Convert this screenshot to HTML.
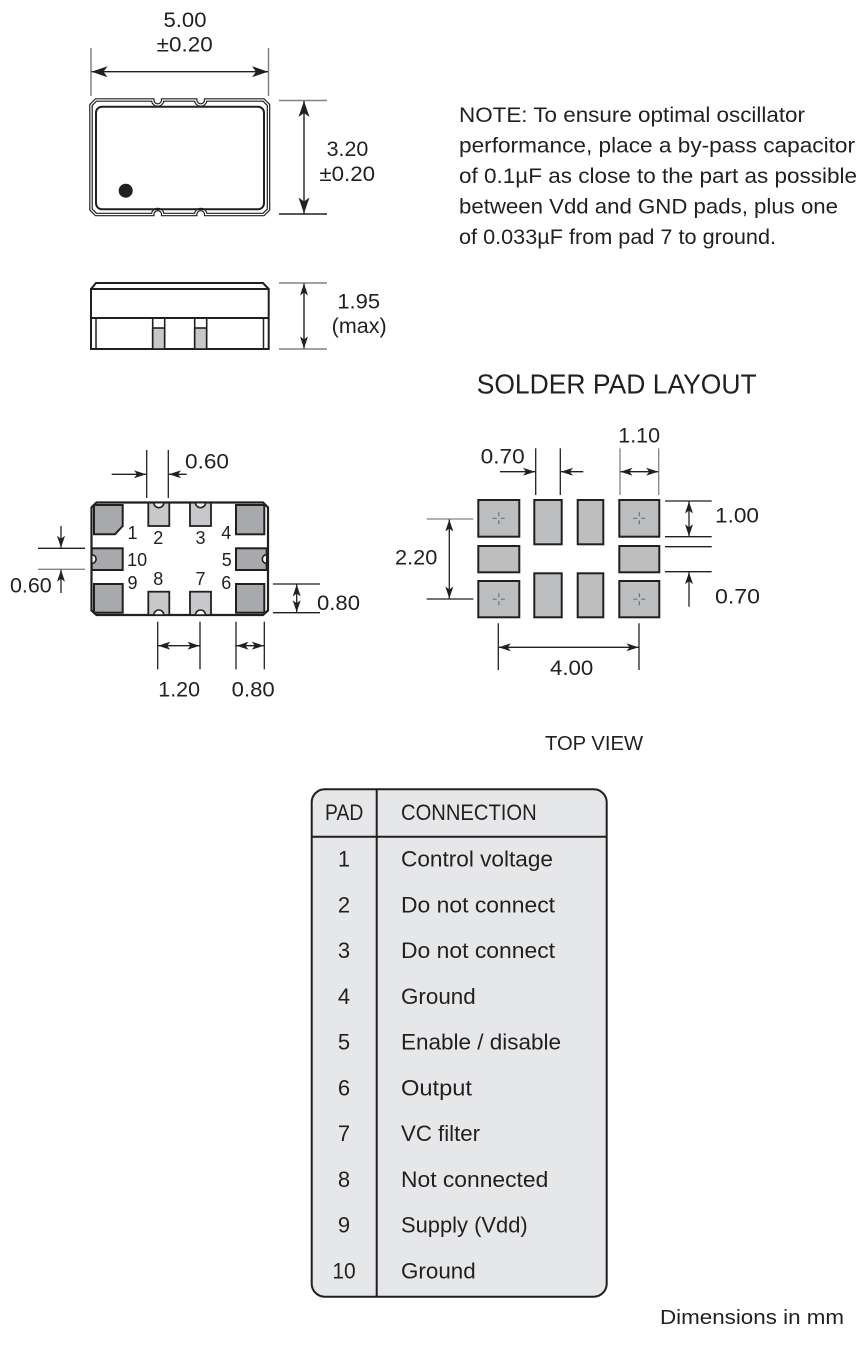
<!DOCTYPE html>
<html><head><meta charset="utf-8"><style>
html,body{margin:0;padding:0;background:#fff;}
svg{display:block;}
text{font-family:"Liberation Sans",sans-serif;fill:#231f20;}
</style></head><body>
<svg width="867" height="1358" viewBox="0 0 867 1358" xmlns="http://www.w3.org/2000/svg">
<defs>
<marker id="aL" markerUnits="userSpaceOnUse" markerWidth="16" markerHeight="11" refX="16" refY="5.5" orient="auto-start-reverse"><path d="M0,0 L16,5.5 L0,11 L4,5.5 Z" fill="#231f20"/></marker>
<marker id="aS" markerUnits="userSpaceOnUse" markerWidth="12" markerHeight="8" refX="12" refY="4" orient="auto-start-reverse"><path d="M0,0 L12,4 L0,8 L3,4 Z" fill="#231f20"/></marker>
</defs>

<!-- ===== TOP VIEW PACKAGE ===== -->
<g fill="none" stroke="#231f20">
<path id="outl" d="M96,100 H152.7 A5,5 0 0 0 162.7,100 H195.7 A5,5 0 0 0 205.7,100 H263.5 L268.5,105 V209.5 L263.5,214.5 H205.7 A5,5 0 0 0 195.7,214.5 H162.7 A5,5 0 0 0 152.7,214.5 H96 L91,209.5 V105 Z" stroke-width="3.6"/>
<path d="M96,100 H152.7 A5,5 0 0 0 162.7,100 H195.7 A5,5 0 0 0 205.7,100 H263.5 L268.5,105 V209.5 L263.5,214.5 H205.7 A5,5 0 0 0 195.7,214.5 H162.7 A5,5 0 0 0 152.7,214.5 H96 L91,209.5 V105 Z" stroke="#fff" stroke-width="1.2"/>
<rect x="96" y="106.7" width="168" height="102.6" rx="6" stroke-width="2"/>
</g>
<circle cx="125.7" cy="190.7" r="7" fill="#231f20"/>

<!-- 5.00 dim -->
<g stroke="#808285" stroke-width="1.5">
<line x1="91" y1="48" x2="91" y2="96"/>
<line x1="268.5" y1="48" x2="268.5" y2="96"/>
<line x1="279" y1="100.5" x2="327" y2="100.5"/>
<line x1="279" y1="214" x2="327" y2="214" stroke="#231f20"/>
<line x1="279" y1="283" x2="327" y2="283"/>
<line x1="279" y1="349" x2="327" y2="349"/>
</g>
<g stroke="#231f20" stroke-width="1.4" fill="none">
<line x1="91.5" y1="71.7" x2="268" y2="71.7" marker-start="url(#aL)" marker-end="url(#aL)"/>
<line x1="304" y1="101" x2="304" y2="213.5" marker-start="url(#aL)" marker-end="url(#aL)"/>
<line x1="304" y1="283.5" x2="304" y2="348.5" marker-start="url(#aS)" marker-end="url(#aS)"/>
</g>
<text x="185" y="27" font-size="21" text-anchor="middle" textLength="43" lengthAdjust="spacingAndGlyphs">5.00</text>
<text x="184.7" y="51.7" font-size="21" text-anchor="middle" textLength="56" lengthAdjust="spacingAndGlyphs">±0.20</text>
<text x="347.5" y="156" font-size="21" text-anchor="middle" textLength="41.7" lengthAdjust="spacingAndGlyphs">3.20</text>
<text x="347.2" y="181" font-size="21" text-anchor="middle" textLength="55.7" lengthAdjust="spacingAndGlyphs">±0.20</text>
<text x="358.7" y="308.3" font-size="21" text-anchor="middle" textLength="42.7" lengthAdjust="spacingAndGlyphs">1.95</text>
<text x="359.2" y="333" font-size="21" text-anchor="middle" textLength="55" lengthAdjust="spacingAndGlyphs">(max)</text>

<!-- ===== SIDE VIEW ===== -->
<g fill="none" stroke="#231f20" stroke-width="2">
<path d="M91,289 L96,283 H263 L268.7,289"/>
<rect x="91" y="289" width="177.7" height="60"/>
<line x1="91" y1="318" x2="268.7" y2="318"/>
<line x1="96" y1="318" x2="96" y2="349" stroke-width="1.5"/>
<line x1="263.5" y1="318" x2="263.5" y2="349" stroke-width="1.5"/>
</g>
<g stroke="#231f20" stroke-width="1.6">
<rect x="152.7" y="328" width="12" height="21" fill="#c7c8ca"/>
<rect x="194.7" y="328" width="12" height="21" fill="#c7c8ca"/>
<line x1="152.7" y1="318" x2="152.7" y2="349"/>
<line x1="164.7" y1="318" x2="164.7" y2="349"/>
<line x1="194.7" y1="318" x2="194.7" y2="349"/>
<line x1="206.7" y1="318" x2="206.7" y2="349"/>
</g>

<!-- ===== NOTE ===== -->
<g font-size="21">
<text x="459" y="122" textLength="346" lengthAdjust="spacingAndGlyphs">NOTE: To ensure optimal oscillator</text>
<text x="459" y="152.5" textLength="396" lengthAdjust="spacingAndGlyphs">performance, place a by-pass capacitor</text>
<text x="459" y="183" textLength="398" lengthAdjust="spacingAndGlyphs">of 0.1µF as close to the part as possible</text>
<text x="459" y="213.5" textLength="379" lengthAdjust="spacingAndGlyphs">between Vdd and GND pads, plus one</text>
<text x="459" y="244" textLength="317" lengthAdjust="spacingAndGlyphs">of 0.033µF from pad 7 to ground.</text>
</g>

<text x="476.7" y="393.3" font-size="28" textLength="280" lengthAdjust="spacingAndGlyphs">SOLDER PAD LAYOUT</text>

<!-- ===== BOTTOM VIEW PACKAGE ===== -->
<path d="M96.5,502.5 H263 L268,507.5 V610.5 L263,615 H96.5 L91.5,610.5 V507.5 Z" fill="none" stroke="#231f20" stroke-width="2.2"/>
<g stroke="#231f20" stroke-width="2" fill="#a7a9ac">
<path d="M94,505 H122.7 V526 L115,534.3 H94 Z"/>
<rect x="236" y="505" width="28.3" height="29.3"/>
<rect x="91.7" y="548.3" width="31" height="21.7"/>
<rect x="236" y="548.3" width="30.7" height="21.7"/>
<rect x="94" y="584" width="28.7" height="28.7"/>
<rect x="236" y="584" width="28.3" height="28.7"/>
</g>
<g stroke="#231f20" stroke-width="1.8" fill="#c7c8ca">
<rect x="148.3" y="502.7" width="21" height="23.3"/>
<rect x="190" y="502.7" width="21" height="23.3"/>
<rect x="148.3" y="591.7" width="21" height="23.3"/>
<rect x="190" y="591.7" width="21" height="23.3"/>
</g>
<g stroke="#231f20" stroke-width="1.6" fill="#fff">
<path d="M153.8,502.7 A5,5 0 0 0 163.8,502.7 Z"/>
<path d="M195.5,502.7 A5,5 0 0 0 205.5,502.7 Z"/>
<path d="M163.8,615 A5,5 0 0 0 153.8,615 Z"/>
<path d="M205.5,615 A5,5 0 0 0 195.5,615 Z"/>
<path d="M91.7,554.7 A4.4,4.4 0 0 1 91.7,563.5 Z"/>
<path d="M266.7,563.5 A4.4,4.4 0 0 1 266.7,554.7 Z"/>
</g>
<g font-size="18" text-anchor="middle">
<text x="132.5" y="539">1</text>
<text x="158.3" y="544">2</text>
<text x="200.5" y="544">3</text>
<text x="226.3" y="539">4</text>
<text x="137.2" y="566">10</text>
<text x="226.8" y="566">5</text>
<text x="132.5" y="589">9</text>
<text x="158.3" y="585">8</text>
<text x="200.5" y="585">7</text>
<text x="226.3" y="589">6</text>
</g>
<!-- bottom view dims -->
<g stroke="#231f20" stroke-width="1.3">
<line x1="146.7" y1="450" x2="146.7" y2="498"/>
<line x1="168.3" y1="450" x2="168.3" y2="498"/>
<line x1="38" y1="548.3" x2="85" y2="548.3"/>
<line x1="38" y1="569.3" x2="85" y2="569.3" stroke="#808285"/>
<line x1="273" y1="584" x2="320" y2="584"/>
<line x1="273" y1="612.7" x2="320" y2="612.7"/>
<line x1="157.7" y1="621.7" x2="157.7" y2="669.3"/>
<line x1="200" y1="621.7" x2="200" y2="669.3"/>
<line x1="236" y1="621.7" x2="236" y2="669.3"/>
<line x1="264.3" y1="621.7" x2="264.3" y2="669.3"/>
</g>
<g stroke="#231f20" stroke-width="1.3" fill="none">
<line x1="111.7" y1="474.3" x2="146" y2="474.3" marker-end="url(#aS)"/>
<line x1="186.7" y1="474.3" x2="169" y2="474.3" marker-end="url(#aS)"/>
<line x1="61" y1="526" x2="61" y2="547.8" marker-end="url(#aS)"/>
<line x1="61" y1="593" x2="61" y2="569.8" marker-end="url(#aS)"/>
<line x1="296.7" y1="584.5" x2="296.7" y2="612.2" marker-start="url(#aS)" marker-end="url(#aS)"/>
<line x1="158.2" y1="645.7" x2="199.5" y2="645.7" marker-start="url(#aS)" marker-end="url(#aS)"/>
<line x1="236.5" y1="645.7" x2="263.8" y2="645.7" marker-start="url(#aS)" marker-end="url(#aS)"/>
</g>
<g font-size="21">
<text x="185" y="468.3" textLength="44" lengthAdjust="spacingAndGlyphs">0.60</text>
<text x="10" y="592.7" textLength="41.7" lengthAdjust="spacingAndGlyphs">0.60</text>
<text x="317" y="610" textLength="43" lengthAdjust="spacingAndGlyphs">0.80</text>
<text x="158.3" y="696.7" textLength="41.7" lengthAdjust="spacingAndGlyphs">1.20</text>
<text x="231.7" y="696.7" textLength="43" lengthAdjust="spacingAndGlyphs">0.80</text>
</g>

<!-- ===== SOLDER PAD LAYOUT ===== -->
<g stroke="#231f20" stroke-width="2" fill="#bcbec0">
<rect x="478.3" y="500" width="41" height="36.7"/>
<rect x="534.3" y="500" width="27.4" height="44.3"/>
<rect x="577.7" y="500" width="25.6" height="44.3"/>
<rect x="619.3" y="500" width="40" height="36.7"/>
<rect x="478.3" y="546" width="41" height="26.3"/>
<rect x="619.3" y="546" width="40" height="26.3"/>
<rect x="478.3" y="581" width="41" height="36.3"/>
<rect x="534.3" y="573.3" width="27.4" height="44"/>
<rect x="577.7" y="573.3" width="25.6" height="44"/>
<rect x="619.3" y="581" width="40" height="36.3"/>
</g>
<g stroke="#6d6e71" stroke-width="1.2">
<path d="M492.8,518.3 H496.8 M500.8,518.3 H504.8 M498.8,512.3 V516.3 M498.8,520.3 V524.3"/>
<path d="M633.3,518.3 H637.3 M641.3,518.3 H645.3 M639.3,512.3 V516.3 M639.3,520.3 V524.3"/>
<path d="M492.8,599.2 H496.8 M500.8,599.2 H504.8 M498.8,593.2 V597.2 M498.8,601.2 V605.2"/>
<path d="M633.3,599.2 H637.3 M641.3,599.2 H645.3 M639.3,593.2 V597.2 M639.3,601.2 V605.2"/>
</g>
<g stroke="#231f20" stroke-width="1.3">
<line x1="535.7" y1="448.3" x2="535.7" y2="495"/>
<line x1="560.3" y1="448.3" x2="560.3" y2="495"/>
<line x1="620" y1="448.3" x2="620" y2="495" stroke="#808285"/>
<line x1="658.7" y1="448.3" x2="658.7" y2="495" stroke="#808285"/>
<line x1="665" y1="501" x2="711.7" y2="501"/>
<line x1="665" y1="536.7" x2="711.7" y2="536.7"/>
<line x1="665" y1="546.7" x2="711.7" y2="546.7"/>
<line x1="665" y1="571.7" x2="711.7" y2="571.7"/>
<line x1="426.7" y1="519" x2="473.3" y2="519" stroke="#808285"/>
<line x1="426.7" y1="599" x2="473.3" y2="599"/>
<line x1="498.3" y1="623.3" x2="498.3" y2="670"/>
<line x1="639" y1="623.3" x2="639" y2="670"/>
</g>
<g stroke="#231f20" stroke-width="1.3" fill="none">
<line x1="500" y1="471.7" x2="535" y2="471.7" marker-end="url(#aS)"/>
<line x1="583.3" y1="471.7" x2="561" y2="471.7" marker-end="url(#aS)"/>
<line x1="620.5" y1="471.7" x2="658.2" y2="471.7" marker-start="url(#aS)" marker-end="url(#aS)"/>
<line x1="689" y1="501.5" x2="689" y2="536.2" marker-start="url(#aS)" marker-end="url(#aS)"/>
<line x1="689" y1="606.7" x2="689" y2="572.2" marker-end="url(#aS)"/>
<line x1="449.3" y1="519.5" x2="449.3" y2="598.5" marker-start="url(#aS)" marker-end="url(#aS)"/>
<line x1="498.8" y1="647.3" x2="638.5" y2="647.3" marker-start="url(#aS)" marker-end="url(#aS)"/>
</g>
<g font-size="21">
<text x="480.7" y="463.3" textLength="44" lengthAdjust="spacingAndGlyphs">0.70</text>
<text x="618.3" y="442.3" textLength="41.7" lengthAdjust="spacingAndGlyphs">1.10</text>
<text x="715" y="522.7" textLength="44" lengthAdjust="spacingAndGlyphs">1.00</text>
<text x="715" y="603.3" textLength="45" lengthAdjust="spacingAndGlyphs">0.70</text>
<text x="395" y="564.3" textLength="42.3" lengthAdjust="spacingAndGlyphs">2.20</text>
<text x="550" y="675" textLength="43.3" lengthAdjust="spacingAndGlyphs">4.00</text>
</g>

<text x="545" y="750" font-size="20" textLength="98" lengthAdjust="spacingAndGlyphs">TOP VIEW</text>

<!-- ===== TABLE ===== -->
<rect x="311.7" y="789.3" width="295" height="507.4" rx="13" fill="#e6e7e8" stroke="#231f20" stroke-width="2"/>
<line x1="376.7" y1="789.3" x2="376.7" y2="1296.7" stroke="#231f20" stroke-width="2"/>
<line x1="311.7" y1="836.7" x2="606.7" y2="836.7" stroke="#231f20" stroke-width="2"/>
<g font-size="22">
<text x="325" y="820" textLength="38.3" lengthAdjust="spacingAndGlyphs">PAD</text>
<text x="401" y="820" textLength="135.7" lengthAdjust="spacingAndGlyphs">CONNECTION</text>
<g text-anchor="middle">
<text x="344" y="866.7">1</text>
<text x="344" y="912.4">2</text>
<text x="344" y="958.2">3</text>
<text x="344" y="1003.9">4</text>
<text x="344" y="1049.6">5</text>
<text x="344" y="1095.4">6</text>
<text x="344" y="1141.1">7</text>
<text x="344" y="1186.8">8</text>
<text x="344" y="1232.5">9</text>
<text x="344" y="1278.3" textLength="23.3" lengthAdjust="spacingAndGlyphs">10</text>
</g>
<text x="401" y="866.7" textLength="152" lengthAdjust="spacingAndGlyphs">Control voltage</text>
<text x="401" y="912.4" textLength="154" lengthAdjust="spacingAndGlyphs">Do not connect</text>
<text x="401" y="958.2" textLength="154" lengthAdjust="spacingAndGlyphs">Do not connect</text>
<text x="401" y="1003.9" textLength="74.7" lengthAdjust="spacingAndGlyphs">Ground</text>
<text x="401" y="1049.6" textLength="160" lengthAdjust="spacingAndGlyphs">Enable / disable</text>
<text x="401" y="1095.4" textLength="71" lengthAdjust="spacingAndGlyphs">Output</text>
<text x="401" y="1141.1" textLength="79" lengthAdjust="spacingAndGlyphs">VC filter</text>
<text x="401" y="1186.8" textLength="147.3" lengthAdjust="spacingAndGlyphs">Not connected</text>
<text x="401" y="1232.5" textLength="126.7" lengthAdjust="spacingAndGlyphs">Supply (Vdd)</text>
<text x="401" y="1278.3" textLength="74.7" lengthAdjust="spacingAndGlyphs">Ground</text>
</g>

<text x="660" y="1324" font-size="20" textLength="184" lengthAdjust="spacingAndGlyphs">Dimensions in mm</text>
</svg>
</body></html>
